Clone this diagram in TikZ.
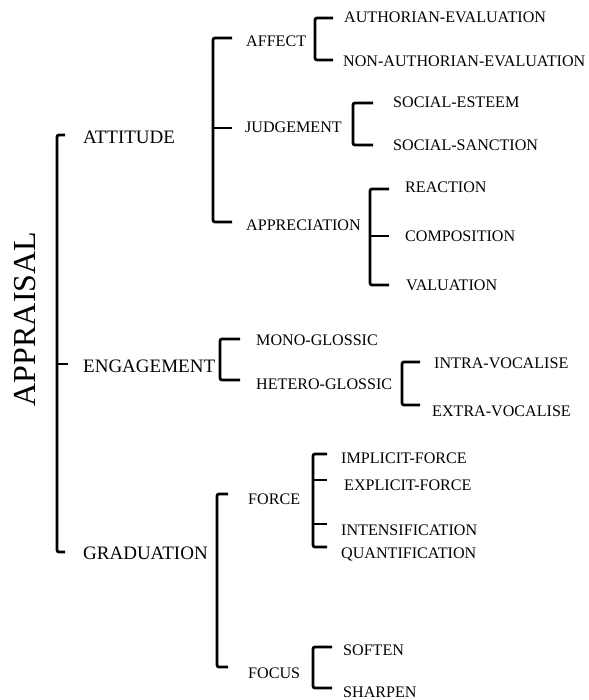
\documentclass[tikz,border=0pt]{standalone}
\usepackage{fontspec}
\setmainfont{Liberation Serif}
\begin{document}
\begin{tikzpicture}[x=1pt,y=-1pt,
  brk/.style={line width=2.8pt, rounded corners=2pt},
  tick/.style={line width=2.8pt},
  lone/.style={anchor=base west, inner sep=0pt, font=\fontsize{19}{21}\selectfont},
  ltwo/.style={anchor=base west, inner sep=0pt, font=\fontsize{16.1}{18}\selectfont}]
\useasboundingbox (0,0) rectangle (588,700);
% root
\node[rotate=90, inner sep=0pt, font=\fontsize{32}{34}\selectfont] (appraisal) at (25,319) {APPRAISAL};
% level 1
\node[lone] (attitude) at (83,144) {ATTITUDE};
\node[lone] (engagement) at (83,372) {ENGAGEMENT};
\node[lone] (graduation) at (83,559) {GRADUATION};
% level 2
\node[ltwo] (affect) at (246,47) {AFFECT};
\node[ltwo] (judgement) at (245,133) {JUDGEMENT};
\node[ltwo] (appreciation) at (246,231) {APPRECIATION};
\node[ltwo] (mono) at (256,345) {MONO-GLOSSIC};
\node[ltwo] (hetero) at (256,389) {HETERO-GLOSSIC};
\node[ltwo] (force) at (248,504) {FORCE};
\node[ltwo] (focus) at (248,678) {FOCUS};
% level 3
\node[ltwo] (auth) at (344,23) {AUTHORIAN-EVALUATION};
\node[ltwo] (nonauth) at (343,67) {NON-AUTHORIAN-EVALUATION};
\node[ltwo] (esteem) at (393,108) {SOCIAL-ESTEEM};
\node[ltwo] (sanction) at (393,151) {SOCIAL-SANCTION};
\node[ltwo] (reaction) at (405,193) {REACTION};
\node[ltwo] (composition) at (405,241.5) {COMPOSITION};
\node[ltwo] (valuation) at (406,290) {VALUATION};
\node[ltwo] (intra) at (434,368) {INTRA-VOCALISE};
\node[ltwo] (extra) at (432,416) {EXTRA-VOCALISE};
\node[ltwo] (implicit) at (341,463) {IMPLICIT-FORCE};
\node[ltwo] (explicit) at (344,490) {EXPLICIT-FORCE};
\node[ltwo] (intens) at (341,535) {INTENSIFICATION};
\node[ltwo] (quant) at (341,558) {QUANTIFICATION};
\node[ltwo] (soften) at (343,655) {SOFTEN};
\node[ltwo] (sharpen) at (343,697) {SHARPEN};
% brackets
\draw[brk] (65,135) -- (57,135) -- (57,552) -- (65,552);
\draw[tick] (57,364) -- (68,364);
\draw[brk] (232,38) -- (213,38) -- (213,222) -- (232,222);
\draw[tick] (213,128) -- (232,128);
\draw[brk] (333,18) -- (315,18) -- (315,60) -- (333,60);
\draw[brk] (373,103) -- (353,103) -- (353,145) -- (373,145);
\draw[brk] (389,189) -- (370,189) -- (370,285) -- (389,285);
\draw[tick] (370,236) -- (389,236);
\draw[brk] (240,339) -- (220,339) -- (220,380) -- (240,380);
\draw[brk] (420,362) -- (402,362) -- (402,405) -- (420,405);
\draw[brk] (228,494) -- (217,494) -- (217,667) -- (228,667);
\draw[brk] (327,454) -- (313,454) -- (313,547) -- (327,547);
\draw[tick] (313,480) -- (327,480);
\draw[tick] (313,524) -- (327,524);
\draw[brk] (332,647) -- (313,647) -- (313,688) -- (332,688);
\end{tikzpicture}
\end{document}
